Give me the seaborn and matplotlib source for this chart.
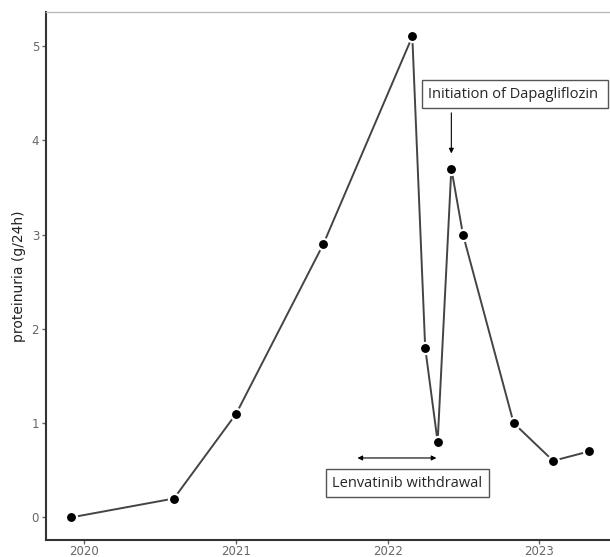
import pandas as pd
import seaborn as sns
import matplotlib.pyplot as plt
import matplotlib.dates as mdates

# measurement dates and 24h proteinuria (g/24h)
dates = ["2019-12-01", "2020-08-04", "2021-01-01", "2021-07-30", "2022-03-01",
         "2022-04-01", "2022-05-01", "2022-06-03", "2022-07-01", "2022-10-31",
         "2023-02-03", "2023-05-01"]
proteinuria = [0.0, 0.2, 1.1, 2.9, 5.1, 1.8, 0.8, 3.7, 3.0, 1.0, 0.6, 0.7]

year_ticks = ["2020", "2021", "2022", "2023"]

df = pd.DataFrame({"date": pd.to_datetime(dates), "proteinuria": proteinuria})

sns.set_style("ticks")
plt.rcParams["font.family"] = ["DejaVu Sans"]

fig = plt.figure(figsize=(6.1, 5.57), dpi=100)
ax = fig.add_axes([0.0754, 0.0305, 0.9246, 0.948])

sns.lineplot(data=df, x="date", y="proteinuria", ax=ax, color="#444444",
             linewidth=1.4, marker="o", markersize=8, markerfacecolor="black",
             markeredgecolor="white", markeredgewidth=1.6)

d = lambda s: mdates.date2num(pd.Timestamp(s))
ax.set_xlim(d("2019-10-01"), d("2023-06-20"))
ax.set_ylim(-0.24, 5.36)
ax.set_xticks([d(y + "-01-01") for y in year_ticks])
ax.set_xticklabels(year_ticks)
ax.set_yticks([0, 1, 2, 3, 4, 5])
ax.tick_params(colors="#666666", labelsize=8.5, length=3, width=1, pad=2)
ax.tick_params(axis="x", pad=0.5)
ax.set_xlabel("")
ax.set_ylabel("proteinuria (g/24h)", fontsize=10, color="#222222", labelpad=4)

for side in ["left", "bottom"]:
    ax.spines[side].set_color("#333333")
    ax.spines[side].set_linewidth(1.5)
ax.spines["right"].set_visible(False)
ax.spines["top"].set_color("#bbbbbb")
ax.spines["top"].set_linewidth(1.0)

# annotations
box = dict(boxstyle="square,pad=0.45", facecolor="white", edgecolor="#555555", linewidth=1)
ax.text(d("2022-02-17"), 0.36, "Lenvatinib withdrawal", ha="center", va="center",
        fontsize=10.5, family=["Open Sans", "DejaVu Sans"], bbox=box)
ax.annotate("", xy=(d("2021-10-20"), 0.63), xytext=(d("2022-04-28"), 0.63),
            arrowprops=dict(arrowstyle="<|-|>", color="black", lw=0.8,
                            mutation_scale=7, shrinkA=0, shrinkB=0))

ax.text(d("2022-04-08"), 4.49, "Initiation of Dapagliflozin ", ha="left", va="center",
        fontsize=10.5, family=["Open Sans", "DejaVu Sans"], bbox=box, clip_on=False)
ax.annotate("", xy=(d("2022-06-03"), 3.86), xytext=(d("2022-06-03"), 4.29),
            arrowprops=dict(arrowstyle="-|>", color="black", lw=0.8,
                            mutation_scale=7, shrinkA=0, shrinkB=0))

fig.savefig("out.png", dpi=100)
